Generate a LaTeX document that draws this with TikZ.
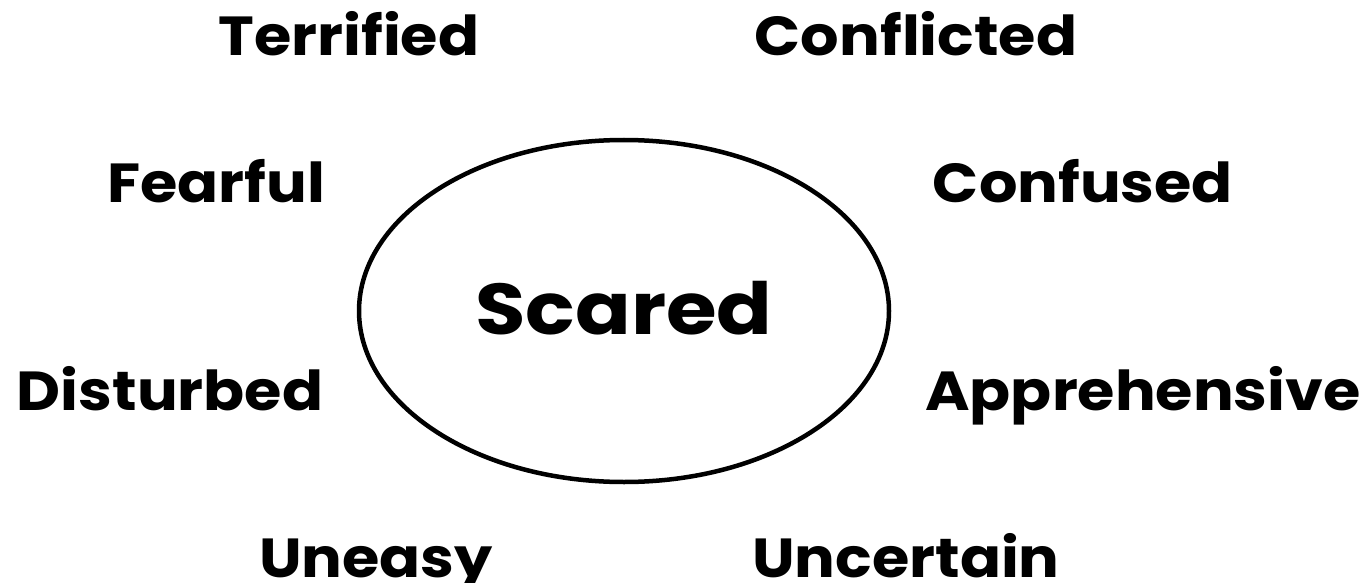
\documentclass[tikz,border=0pt]{standalone}
\usepackage{fontspec}
\setmainfont{Poppins}
\usetikzlibrary{shapes.geometric}
\begin{document}
\begin{tikzpicture}[x=1pt,y=-1pt,
  lbl/.style={font=\fontsize{55}{55}\selectfont\bfseries, anchor=base, inner sep=0pt, xscale=1.1}]
\useasboundingbox (0,0) rectangle (1366,583);
\node[draw, ellipse, line width=4.5pt, minimum width=530pt, minimum height=342pt, inner sep=0pt] (e) at (624,311) {};
\node[font=\fontsize{72}{72}\selectfont\bfseries, anchor=base, inner sep=0pt, xscale=1.14] (s) at (624,334) {Scared};
\node[lbl] (t1) at (349,56) {Terrified};
\node[lbl] (t2) at (916,56) {Conflicted};
\node[lbl] (t3) at (216,203) {Fearful};
\node[lbl] (t4) at (1083,203) {Confused};
\node[lbl] (t5) at (170,410) {Disturbed};
\node[lbl] (t6) at (1143,410) {Apprehensive};
\node[lbl] (t7) at (376,577) {Uneasy};
\node[lbl] (t8) at (906,577) {Uncertain};
\end{tikzpicture}
\end{document}
